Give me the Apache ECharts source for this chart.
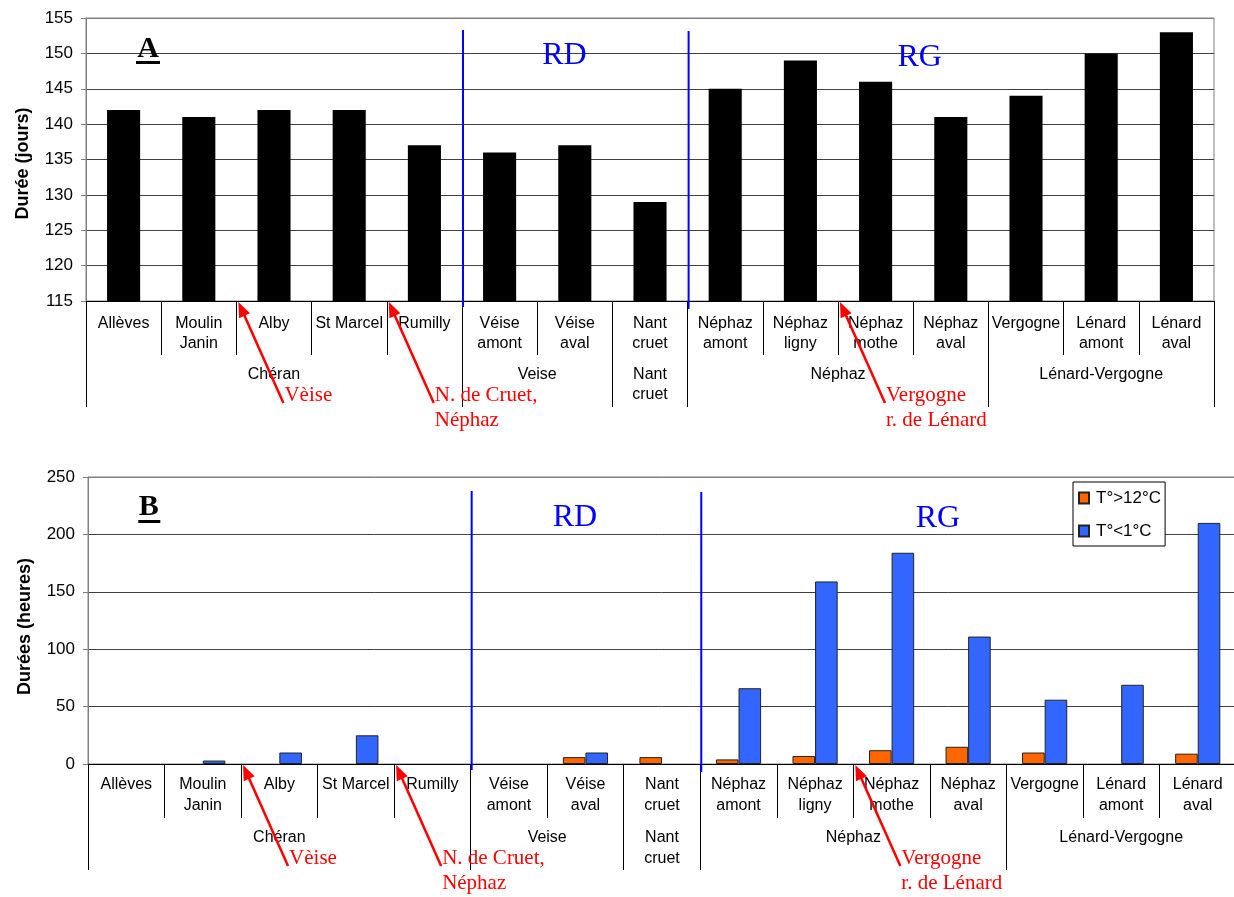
<!DOCTYPE html>
<html>
<head>
<meta charset="utf-8">
<script src="https://cdn.jsdelivr.net/npm/echarts@6/dist/echarts.min.js"></script>
<style>
  html, body { margin: 0; padding: 0; background: #fff; }
  #main { width: 1234px; height: 897px; }
</style>
</head>
<body>
<div id="main"></div>
<script>
// Sampling stations, upstream to downstream, grouped by river
const stations = ['Allèves', 'Moulin\nJanin', 'Alby', 'St Marcel', 'Rumilly',
  'Véise\namont', 'Véise\naval', 'Nant\ncruet',
  'Néphaz\namont', 'Néphaz\nligny', 'Néphaz\nmothe', 'Néphaz\naval',
  'Vergogne', 'Lénard\namont', 'Lénard\naval'];
const rivers = ['Chéran', 'Veise', 'Nant\ncruet', 'Néphaz', 'Lénard-Vergogne'];
const riverStationCounts = [5, 2, 1, 4, 3];

// A: duration in days
const dureeJours = [142, 141, 142, 142, 137, 136, 137, 129, 145, 149, 146, 141, 144, 150, 153];

// B: durations in hours
const seriesNames = ['T°>12°C', 'T°<1°C'];
const heuresSup12 = [0, 0, 0, 0, 0, 0, 6, 6, 4, 7, 12, 15, 10, 0, 9];
const heuresInf1 = [0, 3, 10, 25, 0, 0, 10, 0, 66, 159, 184, 111, 56, 69, 210];

// value axes
const axisA = { min: 115, max: 155, interval: 5 };
const axisB = { min: 0, max: 250, interval: 50 };

// tributary confluences: [index of the station just downstream, label]
const tributaries = [[2, 'Vèise'], [4, 'N. de Cruet,\nNéphaz'], [10, 'Vergogne\nr. de Lénard']];
// bank separators: index of the first station of each bank section
const bankBreaks = [5, 8];
const bankLabels = ['RD', 'RG'];

const SANS = "'Liberation Sans', Arial, sans-serif";
const SERIF = "'Liberation Serif', 'Times New Roman', serif";

// River axis: half-step positions so that group labels sit at group centres
// and ticks at group boundaries.
function riverAxis() {
  const n = 2 * stations.length + 1;
  const labels = new Array(n).fill('');
  const bounds = new Set([0]);
  let start = 0;
  rivers.forEach((r, i) => {
    const end = start + riverStationCounts[i];
    labels[start + end] = r;
    bounds.add(2 * end);
    start = end;
  });
  return { keys: labels.map((_, i) => 'p' + i), labels, bounds };
}
const ra = riverAxis();

function stationXAxis(grid, margin, lh) {
  return {
    type: 'category', gridIndex: grid, data: stations, position: 'bottom',
    axisLine: { show: true, lineStyle: { color: '#000', width: 1 } },
    axisTick: { show: true, length: 54, lineStyle: { color: '#000', width: 1 } },
    axisLabel: { interval: 0, margin: margin, fontSize: 16, lineHeight: lh, color: '#000', fontFamily: SANS },
    splitLine: { show: false }
  };
}
function riverXAxis(grid, margin, lh) {
  return {
    type: 'category', gridIndex: grid, data: ra.keys, boundaryGap: false, position: 'bottom',
    axisLine: { show: false },
    axisTick: { show: true, length: 106, interval: (i) => ra.bounds.has(i), lineStyle: { color: '#000', width: 1 } },
    axisLabel: { interval: 0, margin: margin, fontSize: 16, lineHeight: lh, color: '#000', fontFamily: SANS,
      formatter: (v, i) => ra.labels[i] },
    splitLine: { show: false }
  };
}
function splitColors(ax) {
  const n = Math.round((ax.max - ax.min) / ax.interval) + 1;
  const c = new Array(n).fill('#404040');
  c[n - 1] = '#808080';
  return c;
}
function valueYAxis(grid, ax, name, pad) {
  return {
    type: 'value', gridIndex: grid, min: ax.min, max: ax.max, interval: ax.interval,
    axisLine: { show: true, lineStyle: { color: '#808080', width: 1 } },
    axisTick: { show: true, length: 5, lineStyle: { color: '#808080' } },
    axisLabel: { margin: 13, fontSize: 17, color: '#000', fontFamily: SANS },
    splitLine: { show: true, lineStyle: { color: splitColors(ax), width: 1 } },
    name: name, nameLocation: 'middle', nameRotate: 90, nameGap: 54,
    nameTextStyle: { fontWeight: 'bold', fontSize: 18, color: '#000', fontFamily: SANS, padding: [0, pad, 0, 0] }
  };
}
// empty (zero) bars carry no outline
const outlined = (values) => values.map((v) => (v === 0 ? { value: v, itemStyle: { borderWidth: 0 } } : v));

const option = {
  animation: false,
  backgroundColor: '#fff',
  grid: [
    { left: 86, top: 18, width: 1128, height: 283, show: true, borderColor: '#808080', borderWidth: 1,
      backgroundColor: 'transparent', containLabel: false, outerBoundsMode: 'none' },
    { left: 88, top: 477, width: 1148, height: 287, show: true, borderColor: '#808080', borderWidth: 1,
      backgroundColor: 'transparent', containLabel: false, outerBoundsMode: 'none' }
  ],
  xAxis: [
    stationXAxis(0, 12.3, 20),
    riverXAxis(0, 64, 20),
    stationXAxis(1, 10.2, 21),
    riverXAxis(1, 63, 21)
  ],
  yAxis: [
    valueYAxis(0, axisA, 'Durée (jours)', 8),
    valueYAxis(1, axisB, 'Durées (heures)', 12)
  ],
  legend: {
    data: seriesNames, orient: 'vertical', left: 1073, top: 482,
    padding: [6, 4, 5, 5], itemGap: 13, itemWidth: 10, itemHeight: 11, icon: 'rect',
    backgroundColor: '#fff', borderColor: '#000', borderWidth: 1, borderRadius: 0,
    textStyle: { fontSize: 17, lineHeight: 20, color: '#000', fontFamily: SANS, padding: [0, 0, 0, 2] }
  },
  series: [
    { name: 'Durée', type: 'bar', xAxisIndex: 0, yAxisIndex: 0, data: dureeJours,
      barCategoryGap: '56%', itemStyle: { color: '#000' } },
    { name: seriesNames[0], type: 'bar', xAxisIndex: 2, yAxisIndex: 1, data: outlined(heuresSup12),
      barGap: '0%', barCategoryGap: '41%', itemStyle: { color: '#FF6600', borderColor: '#222', borderWidth: 1 } },
    { name: seriesNames[1], type: 'bar', xAxisIndex: 2, yAxisIndex: 1, data: outlined(heuresInf1),
      barGap: '0%', barCategoryGap: '41%', itemStyle: { color: '#3366FF', borderColor: '#222', borderWidth: 1 } }
  ]
};

const chart = echarts.init(document.getElementById('main'), null, { renderer: 'canvas' });
chart.setOption(option);

// ---- overlay: panel letters, bank labels and separators, tributary arrows ----
const catX = (axis, i) => chart.convertToPixel({ xAxisIndex: axis }, i);
const boundaryX = (axis, k) => (catX(axis, k - 1) + catX(axis, k)) / 2;
const valY = (axis, v) => chart.convertToPixel({ yAxisIndex: axis }, v);

function arrow(tip, tail) {
  const dx = tip[0] - tail[0], dy = tip[1] - tail[1], len = Math.hypot(dx, dy);
  const ux = dx / len, uy = dy / len, L = 15, W = 6;
  const bx = tip[0] - ux * L, by = tip[1] - uy * L;
  return [
    { type: 'line', z: 100, shape: { x1: tail[0], y1: tail[1], x2: bx + ux * 2, y2: by + uy * 2 },
      style: { stroke: '#FF0000', lineWidth: 2.5 } },
    { type: 'polygon', z: 100, shape: { points: [[tip[0], tip[1]], [bx - uy * W, by + ux * W], [bx + uy * W, by - ux * W]] },
      style: { fill: '#FF0000' } }
  ];
}
function text(x, y, str, style) {
  return { type: 'text', z: 100, x: x, y: y, style: Object.assign({ text: str }, style) };
}

const panels = [
  { xi: 0, yi: 0, ax: axisA, letter: 'A', letterPos: [148, 49.5], underline: [136, 61, 24, 3],
    bankPos: [[564.5, 56], [919.7, 58]], lineTop: 12 },
  { xi: 2, yi: 1, ax: axisB, letter: 'B', letterPos: [148.8, 507], underline: [138.3, 520, 22, 3],
    bankPos: [[575, 517.5], [938, 519]], lineTop: 14 }
];

const els = [];
panels.forEach((p) => {
  const yTop = valY(p.yi, p.ax.max);
  const yBase = valY(p.yi, p.ax.min);
  els.push(text(p.letterPos[0], p.letterPos[1], p.letter,
    { fill: '#000', fontSize: 30, fontWeight: 'bold', fontFamily: SERIF, align: 'center', verticalAlign: 'middle' }));
  els.push({ type: 'rect', z: 100, shape: { x: p.underline[0], y: p.underline[1], width: p.underline[2], height: p.underline[3] },
    style: { fill: '#000' } });
  bankBreaks.forEach((k, i) => {
    const x = boundaryX(p.xi, k) + 1;
    els.push({ type: 'line', z: 90, shape: { x1: x, y1: yTop + p.lineTop + i, x2: x, y2: yBase + 6 + 2 * i },
      style: { stroke: '#0000FF', lineWidth: 2 } });
    els.push(text(p.bankPos[i][0], p.bankPos[i][1], bankLabels[i],
      { fill: '#0000FF', fontSize: 32, fontFamily: SERIF, align: 'center', verticalAlign: 'middle' }));
  });
  tributaries.forEach(([k, label]) => {
    const tip = [boundaryX(p.xi, k) + 2, yBase + 1];
    const tail = [tip[0] + 45, tip[1] + 101];
    arrow(tip, tail).forEach((e) => els.push(e));
    els.push(text(tail[0] + 1, tail[1] - 20.5, label,
      { fill: '#FF0000', fontSize: 21, lineHeight: 25, fontFamily: SERIF, align: 'left', verticalAlign: 'top' }));
  });
});
chart.setOption({ graphic: els });
</script>
</body>
</html>
